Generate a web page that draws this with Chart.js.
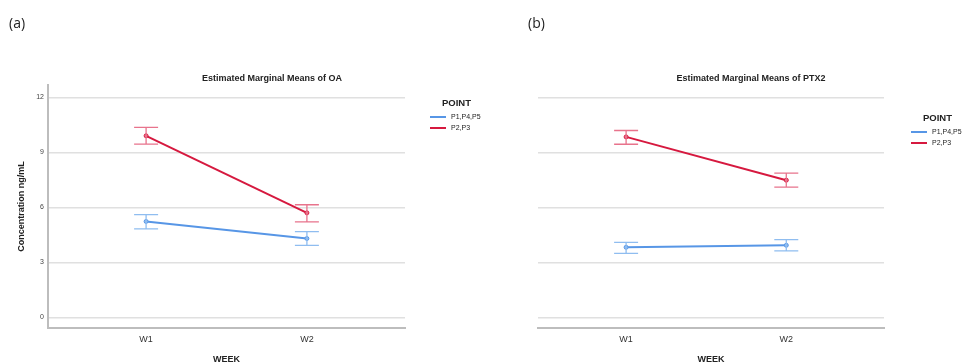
<!DOCTYPE html>
<html>
<head>
<meta charset="utf-8">
<script src="https://cdn.jsdelivr.net/npm/chart.js@4"></script>
<style>
  body { margin: 0; background: #fff; }
  #wrap { position: relative; width: 962px; height: 362px; overflow: hidden; font-family: "Liberation Sans", Arial, sans-serif; color: #222; }
  canvas { position: absolute; top: 0; }
  .panel { position: absolute; font-size: 14px; top: 13px; font-family: "Open Sans", sans-serif; }
  .title { position: absolute; font-size: 9px; font-weight: bold; top: 73px; white-space: nowrap; transform: translateX(-50%); }
  .legend { position: absolute; font-size: 7px; }
  .legend .head { font-size: 9.5px; font-weight: bold; margin-left: 12px; margin-bottom: 3px; }
  .legend .row { display: flex; align-items: center; height: 11px; }
  .legend .sw { width: 16px; height: 2px; margin-right: 5px; }
</style>
</head>
<body>
<div id="wrap">
  <canvas id="oa" width="480" height="362" style="left:0;width:480px;height:362px"></canvas>
  <canvas id="ptx" width="482" height="362" style="left:480px;width:482px;height:362px"></canvas>

  <div class="panel" style="left:9px">(a)</div>
  <div class="panel" style="left:528px">(b)</div>
  <div class="title" style="left:272px">Estimated Marginal Means of OA</div>
  <div class="title" style="left:751px">Estimated Marginal Means of PTX2</div>

  <div class="legend" style="left:430px;top:97px">
    <div class="head">POINT</div>
    <div class="row"><span class="sw" style="background:#5796e6"></span>P1,P4,P5</div>
    <div class="row"><span class="sw" style="background:#d6193f"></span>P2,P3</div>
  </div>
  <div class="legend" style="left:911px;top:112px">
    <div class="head">POINT</div>
    <div class="row"><span class="sw" style="background:#5796e6"></span>P1,P4,P5</div>
    <div class="row"><span class="sw" style="background:#d6193f"></span>P2,P3</div>
  </div>
</div>

<script>
const weeks = ['W1', 'W2'];
const yTicks = [0, 3, 6, 9, 12];

// (a) OA
const oaP145 = [5.23, 4.30];
const oaP145Lo = [4.83, 3.93];
const oaP145Hi = [5.60, 4.67];
const oaP23 = [9.90, 5.70];
const oaP23Lo = [9.45, 5.21];
const oaP23Hi = [10.36, 6.14];

// (b) PTX2 (no tick labels in the original, read on the same grid)
const ptxP145 = [3.82, 3.93];
const ptxP145Lo = [3.49, 3.62];
const ptxP145Hi = [4.09, 4.24];
const ptxP23 = [9.84, 7.48];
const ptxP23Lo = [9.44, 7.10];
const ptxP23Hi = [10.19, 7.87];

const blue = '#5796e6', blueLight = '#8fbdf0';
const red = '#d6193f', redLight = '#e8738c';

// draws the whiskers with caps for every dataset
const errorBars = {
  id: 'errorBars',
  afterDatasetsDraw(chart) {
    const ctx = chart.ctx;
    const x = chart.scales.x, y = chart.scales.y;
    chart.data.datasets.forEach((ds) => {
      ds.data.forEach((p, i) => {
        const px = x.getPixelForValue(p.x);
        const top = y.getPixelForValue(ds.hi[i]);
        const bot = y.getPixelForValue(ds.lo[i]);
        ctx.save();
        ctx.strokeStyle = ds.errColor;
        ctx.lineWidth = 1.3;
        ctx.beginPath();
        ctx.moveTo(px, top); ctx.lineTo(px, bot);
        ctx.moveTo(px - 12, top); ctx.lineTo(px + 12, top);
        ctx.moveTo(px - 12, bot); ctx.lineTo(px + 12, bot);
        ctx.stroke();
        ctx.restore();
      });
    });
  }
};

function series(label, values, lo, hi, color, light) {
  return {
    label: label,
    data: values.map((v, i) => ({ x: i + 1, y: v })),
    lo: lo,
    hi: hi,
    errColor: light,
    borderColor: color,
    borderWidth: 2,
    pointRadius: 2,
    pointBackgroundColor: light,
    pointBorderColor: color,
    pointBorderWidth: 1,
    tension: 0
  };
}

function makeChart(id, datasets, opts) {
  return new Chart(document.getElementById(id), {
    type: 'line',
    data: { datasets: datasets },
    plugins: [errorBars],
    options: {
      responsive: false,
      animation: false,
      events: [],
      layout: { padding: { left: 0, top: 85, right: opts.padRight, bottom: 0 } },
      plugins: { legend: { display: false }, tooltip: { enabled: false } },
      scales: {
        x: {
          type: 'linear',
          min: opts.xMin,
          max: opts.xMax,
          afterBuildTicks: (s) => { s.ticks = [{ value: 1 }, { value: 2 }]; },
          afterFit: (s) => { s.height = 34; },
          grid: { display: false, drawTicks: false },
          border: { display: true, color: '#bdbdbd', width: 2 },
          ticks: {
            padding: 6,
            color: '#333',
            font: { family: 'Liberation Sans', size: 9 },
            callback: (v) => weeks[v - 1]
          },
          title: {
            display: true,
            text: 'WEEK',
            color: '#222',
            font: { family: 'Liberation Sans', size: 9, weight: 'bold' },
            padding: { top: 0, bottom: -3 }
          }
        },
        y: {
          min: -0.58,
          max: 12.67,
          afterBuildTicks: (s) => { s.ticks = yTicks.map((v) => ({ value: v })); },
          afterFit: (s) => { s.width = opts.yWidth; },
          grid: { color: '#e0e0e0', lineWidth: 1.5, drawTicks: false },
          border: { display: opts.yBorder, color: '#bdbdbd', width: 2 },
          ticks: {
            display: opts.yLabels,
            padding: 4,
            color: '#444',
            font: { family: 'Liberation Sans', size: 7 }
          },
          title: {
            display: opts.yLabels,
            text: 'Concentration ng/mL',
            color: '#222',
            font: { family: 'Liberation Sans', size: 9, weight: 'bold' },
            padding: { top: 16, bottom: 0 }
          }
        }
      }
    }
  });
}

makeChart('oa', [
  series('P1,P4,P5', oaP145, oaP145Lo, oaP145Hi, blue, blueLight),
  series('P2,P3', oaP23, oaP23Lo, oaP23Hi, red, redLight)
], { xMin: 0.39, xMax: 2.61, padRight: 75, yWidth: 48, yBorder: true, yLabels: true });

makeChart('ptx', [
  series('P1,P4,P5', ptxP145, ptxP145Lo, ptxP145Hi, blue, blueLight),
  series('P2,P3', ptxP23, ptxP23Lo, ptxP23Hi, red, redLight)
], { xMin: 0.45, xMax: 2.61, padRight: 78, yWidth: 58, yBorder: false, yLabels: false });
</script>
</body>
</html>
